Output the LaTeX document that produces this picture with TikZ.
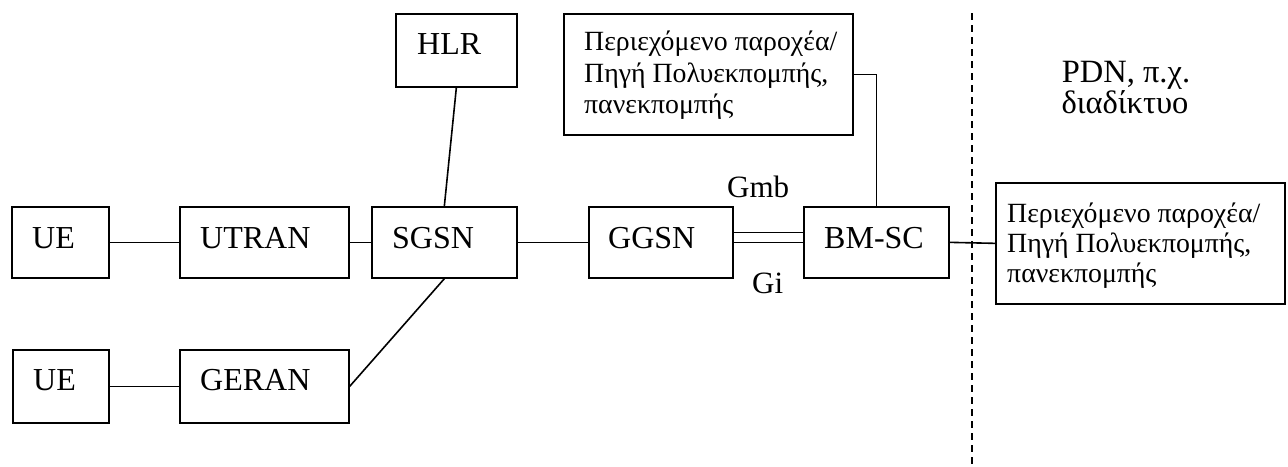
\documentclass[tikz,border=0pt]{standalone}
\usepackage{fontspec}
\setmainfont{Liberation Serif}
\usetikzlibrary{calc}
\begin{document}
\begin{tikzpicture}[x=1pt,y=-1pt,
  box/.style={draw, line width=1.7pt, rectangle, inner sep=0pt, anchor=north west},
  lbl/.style={font=\fontsize{32}{36}\selectfont, inner sep=0pt, anchor=base west},
  gr/.style={font=\fontsize{27.8}{31}\selectfont, inner sep=0pt, anchor=base west},
  pdn/.style={font=\fontsize{32.5}{36}\selectfont, inner sep=0pt, anchor=base},
  conn/.style={line width=1.6pt},
  border/.style={line width=1.4pt, dash pattern=on 7pt off 5pt},
]
\useasboundingbox (0,0) rectangle (1288,466);

% boxes
\node[box, minimum width=97pt,  minimum height=71pt] (ue1)   at (11,206)  {};
\node[box, minimum width=169pt, minimum height=71pt] (utran) at (179,206) {};
\node[box, minimum width=145pt, minimum height=71pt] (sgsn)  at (371,206) {};
\node[box, minimum width=144pt, minimum height=71pt] (ggsn)  at (588,206) {};
\node[box, minimum width=145pt, minimum height=71pt] (bmsc)  at (803,206) {};
\node[box, minimum width=121pt, minimum height=73pt] (hlr)   at (395,13)  {};
\node[box, minimum width=96pt,  minimum height=73pt] (ue2)   at (12,349)  {};
\node[box, minimum width=169pt, minimum height=73pt] (geran) at (179,349) {};
\node[box, minimum width=289pt, minimum height=121pt] (pbox1) at (563,13)  {};
\node[box, minimum width=289pt, minimum height=121pt] (pbox2) at (995,182) {};

% labels
\node[lbl] (ue1t)   at ($(ue1.north west)+(21,42)$)   {UE};
\node[lbl] (utrant) at ($(utran.north west)+(21,42)$) {UTRAN};
\node[lbl] (sgsnt)  at ($(sgsn.north west)+(21,42)$)  {SGSN};
\node[lbl] (ggsnt)  at ($(ggsn.north west)+(20,42)$)  {GGSN};
\node[lbl] (bmsct)  at ($(bmsc.north west)+(21,42)$)  {BM-SC};
\node[lbl] (hlrt)   at ($(hlr.north west)+(22,41)$)   {HLR};
\node[lbl] (ue2t)   at ($(ue2.north west)+(21,41)$)   {UE};
\node[lbl] (gerant) at ($(geran.north west)+(21,41)$) {GERAN};

\node[gr] (p1a) at ($(pbox1.north west)+(21,37)$) {Περιεχόμενο παροχέα/};
\node[gr] (p1b) at ($(pbox1.north west)+(21,69)$) {Πηγή Πολυεκπομπής,};
\node[gr] (p1c) at ($(pbox1.north west)+(21,100)$) {πανεκπομπής};

\node[gr] (p2a) at ($(pbox2.north west)+(12,40)$) {Περιεχόμενο παροχέα/};
\node[gr] (p2b) at ($(pbox2.north west)+(12,70)$) {Πηγή Πολυεκπομπής,};
\node[gr] (p2c) at ($(pbox2.north west)+(12,100)$) {πανεκπομπής};

\node[pdn] (pdn1) at (1126,82)  {PDN, π.χ.};
\node[pdn] (pdn2) at (1125,113) {διαδίκτυο};

\node[lbl, font=\fontsize{31}{34}\selectfont] (gmb) at (727,197) {Gmb};
\node[lbl, font=\fontsize{31}{34}\selectfont] (gi)  at (752,293) {Gi};

% connectors
\draw[conn] (ue1.east) -- (utran.west);
\draw[conn] (utran.east) -- (sgsn.west);
\draw[conn] (sgsn.east) -- (ggsn.west);
\draw[conn] (hlr.south) -- (sgsn.north);
\draw[conn] (sgsn.south) -- (geran.east);
\draw[conn] (ue2.east) -- (geran.west);
\draw[conn] ([yshift=10pt]ggsn.east) -- ([yshift=10pt]bmsc.west);
\draw[conn] (ggsn.east) -- (bmsc.west);
\draw[conn] (pbox1.east) -| (bmsc.north);
\draw[conn] (bmsc.east) -- (pbox2.west);

% domain border
\coordinate (dtop) at (972,13);
\coordinate (dbot) at (972,470);
\draw[border] (dtop) -- (dbot);
\end{tikzpicture}
\end{document}
